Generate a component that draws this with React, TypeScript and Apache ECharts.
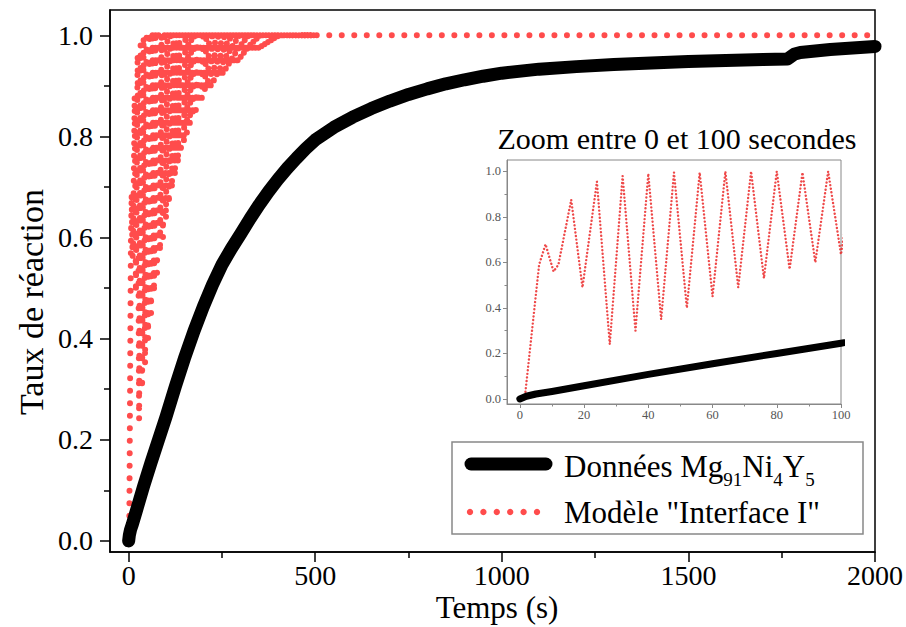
import React, { useEffect, useRef } from "react";
import * as echarts from "echarts";

// ---- Data ----
const xTicks = [0, 500, 1000, 1500, 2000];
const xMinorTicks = [250, 750, 1250, 1750];
const yTicks = [0, 0.2, 0.4, 0.6, 0.8, 1.0];
const yMinorTicks = [0.1, 0.3, 0.5, 0.7, 0.9];
const insetXTicks = [0, 20, 40, 60, 80, 100];
const insetXMinorTicks = [10, 30, 50, 70, 90];

// Données Mg91Ni4Y5 (temps s, taux)
const dataT = [0, 2, 5, 10, 20, 40, 60, 80, 100, 125, 150, 175, 200, 225, 250, 275, 300, 325, 350, 375, 400, 425, 450, 475, 500, 550, 600, 650, 700, 750, 800, 850, 900, 950, 1000, 1100, 1200, 1300, 1400, 1500, 1600, 1700, 1765, 1785, 1800, 1880, 2000];
const dataY = [0, 0.012, 0.022, 0.033, 0.058, 0.108, 0.155, 0.2, 0.245, 0.305, 0.362, 0.415, 0.463, 0.507, 0.546, 0.578, 0.607, 0.637, 0.665, 0.691, 0.715, 0.737, 0.757, 0.776, 0.793, 0.818, 0.838, 0.855, 0.87, 0.883, 0.894, 0.904, 0.912, 0.919, 0.925, 0.933, 0.938, 0.942, 0.945, 0.948, 0.95, 0.952, 0.953, 0.963, 0.966, 0.972, 0.978];

// Modèle "Interface I" (peaks and troughs)
const modelT = [1.5, 6, 8, 10.5, 12, 16, 19.5, 24, 28, 32, 36, 40, 44, 48, 52, 56, 60, 64, 68, 72, 76, 80, 84, 88, 92, 96, 100,
  104, 108, 112, 116, 120, 124, 128, 132, 136, 140, 144, 148, 152, 156, 160, 164, 168, 172, 176, 180, 184, 188, 192, 196, 200,
  204, 208, 212, 216, 220, 224, 228, 232, 236, 240, 244, 248, 252, 256, 260, 264, 268, 272, 276, 280, 284, 288, 292, 296, 300,
  304, 308, 312, 316, 320, 324, 328, 332, 336, 340, 344, 348, 352, 356, 360, 364, 368, 372, 376, 380, 384, 388, 392, 396, 400,
  404, 408, 412, 416, 420, 424, 428, 432, 436, 440, 444, 448, 452, 456, 460, 464, 468, 472, 476, 480, 484, 488, 492, 496, 500,
  504, 2000];
const modelY = [0.0, 0.59, 0.68, 0.56, 0.59, 0.875, 0.49, 0.955, 0.24, 0.98, 0.30, 0.99, 0.35, 0.995, 0.40, 0.995, 0.45, 1.0, 0.49, 1.0, 0.53, 1.0, 0.57, 0.995, 0.60, 1.0, 0.635,
  1.0, 0.665, 1.0, 0.695, 1.0, 0.72, 1.0, 0.745, 1.0, 0.765, 1.0, 0.785, 1.0, 0.805, 1.0, 0.822, 1.0, 0.838, 1.0, 0.852, 1.0, 0.864, 1.0, 0.875, 1.0,
  0.885, 1.0, 0.893, 1.0, 0.9, 1.0, 0.906, 1.0, 0.912, 1.0, 0.918, 1.0, 0.924, 1.0, 0.93, 1.0, 0.935, 1.0, 0.94, 1.0, 0.945, 1.0, 0.95, 1.0, 0.954,
  1.0, 0.958, 1.0, 0.962, 1.0, 0.966, 1.0, 0.969, 1.0, 0.972, 1.0, 0.975, 1.0, 0.977, 1.0, 0.979, 1.0, 0.981, 1.0, 0.983, 1.0, 0.985, 1.0, 0.987, 1.0,
  0.988, 1.0, 0.989, 1.0, 0.99, 1.0, 0.991, 1.0, 0.992, 1.0, 0.993, 1.0, 0.994, 1.0, 0.995, 1.0, 0.996, 1.0, 0.997, 1.0, 0.998, 1.0, 0.998, 1.0, 0.999,
  1.0, 1.0];

const FONT = '"Liberation Serif", "Times New Roman", serif';

function pairs(t: number[], y: number[]) {
  return t.map((v, i) => [v, y[i]]);
}

// Split the model path at every peak, so the dot pattern restarts at each peak
function splitAtPeaks(t: number[], y: number[]) {
  const out: any[] = [];
  for (let i = 0; i < t.length; i++) {
    out.push([t[i], y[i]]);
    const isPeak = i > 0 && i < t.length - 1 && y[i] >= y[i - 1] && y[i] >= y[i + 1];
    if (isPeak) {
      out.push([t[i], "-"]);
      out.push([t[i], y[i]]);
    }
  }
  return out;
}

function majorAxis(opts: any) {
  const { gridIndex, min, max, ticks, fmt, color, labelColor, fontSize, margin, tickLen, lineWidth, position } = opts;
  return {
    type: "value",
    gridIndex,
    position,
    min,
    max,
    splitLine: { show: false },
    axisLine: { show: true, onZero: false, lineStyle: { color, width: lineWidth } },
    axisTick: { show: true, inside: false, customValues: ticks, length: tickLen, lineStyle: { color, width: lineWidth } },
    axisLabel: {
      show: true,
      customValues: ticks,
      formatter: fmt,
      margin,
      fontSize,
      fontFamily: FONT,
      color: labelColor,
    },
  };
}

function minorAxis(opts: any) {
  const { gridIndex, min, max, ticks, color, tickLen, lineWidth, position } = opts;
  return {
    type: "value",
    gridIndex,
    position,
    min,
    max,
    splitLine: { show: false },
    axisLine: { show: false, onZero: false },
    axisLabel: { show: false },
    axisTick: { show: true, inside: false, customValues: ticks, length: tickLen, lineStyle: { color, width: lineWidth } },
  };
}

export default function App() {
  const ref = useRef<HTMLDivElement>(null);

  useEffect(() => {
    if (!ref.current) return;
    const chart = echarts.init(ref.current, null, { renderer: "svg" });

    const dataPairs = pairs(dataT, dataY);
    const modelPairs = pairs(modelT, modelY);
    const modelSplit = splitAtPeaks(modelT, modelY);

    const legendDots = [0, 1, 2, 3, 4, 5].map((i) => ({
      type: "circle",
      shape: { cx: 470 + i * 13.4, cy: 512, r: 3.2 },
      style: { fill: "rgba(255,0,0,0.7)" },
      z: 101,
    }));

    const fmtInt = (v: number) => String(v);
    const fmt1 = (v: number) => v.toFixed(1);

    const option: any = {
      animation: false,
      backgroundColor: "#fff",
      grid: [
        { left: 110, top: 10, right: 30, bottom: 75, show: true, borderColor: "#000", borderWidth: 1.5, backgroundColor: "transparent" },
        { left: 507, top: 160, right: 65, bottom: 223, show: true, borderColor: "#888", borderWidth: 1, backgroundColor: "#fff" },
      ],
      xAxis: [
        majorAxis({ gridIndex: 0, position: "bottom", min: -50, max: 2000, ticks: xTicks, fmt: fmtInt, color: "#000", labelColor: "#000", fontSize: 28, margin: 9, tickLen: 10, lineWidth: 1.5 }),
        minorAxis({ gridIndex: 0, position: "bottom", min: -50, max: 2000, ticks: xMinorTicks, color: "#000", tickLen: 6, lineWidth: 1.5 }),
        majorAxis({ gridIndex: 1, position: "bottom", min: -4, max: 100, ticks: insetXTicks, fmt: fmtInt, color: "#888", labelColor: "#555", fontSize: 12.5, margin: 4, tickLen: 4, lineWidth: 1 }),
        minorAxis({ gridIndex: 1, position: "bottom", min: -4, max: 100, ticks: insetXMinorTicks, color: "#888", tickLen: 2.5, lineWidth: 1 }),
      ],
      yAxis: [
        majorAxis({ gridIndex: 0, position: "left", min: -0.022, max: 1.05, ticks: yTicks, fmt: fmt1, color: "#000", labelColor: "#000", fontSize: 28, margin: 17, tickLen: 10, lineWidth: 1.5 }),
        minorAxis({ gridIndex: 0, position: "left", min: -0.022, max: 1.05, ticks: yMinorTicks, color: "#000", tickLen: 6, lineWidth: 1.5 }),
        majorAxis({ gridIndex: 1, position: "left", min: -0.022, max: 1.05, ticks: yTicks, fmt: fmt1, color: "#888", labelColor: "#555", fontSize: 12.5, margin: 6, tickLen: 4, lineWidth: 1 }),
        minorAxis({ gridIndex: 1, position: "left", min: -0.022, max: 1.05, ticks: yMinorTicks, color: "#888", tickLen: 2.5, lineWidth: 1 }),
      ],
      series: [
        {
          name: 'Modèle "Interface I"',
          type: "line",
          xAxisIndex: 0,
          yAxisIndex: 0,
          data: modelSplit,
          connectNulls: false,
          symbol: "none",
          showSymbol: false,
          z: 2,
          lineStyle: { color: "rgba(255,0,0,0.7)", width: 6, type: [0.01, 12.5], cap: "round", join: "round" },
        },
        {
          name: "Données Mg91Ni4Y5",
          type: "line",
          xAxisIndex: 0,
          yAxisIndex: 0,
          data: dataPairs,
          symbol: "none",
          showSymbol: false,
          z: 3,
          lineStyle: { color: "#000", width: 13, cap: "round", join: "round" },
        },
        {
          type: "line",
          xAxisIndex: 2,
          yAxisIndex: 2,
          data: modelPairs,
          symbol: "none",
          showSymbol: false,
          z: 4,
          lineStyle: { color: "rgba(235,40,40,0.85)", width: 2.4, type: [0.01, 3.6], cap: "round", join: "round" },
        },
        {
          type: "line",
          xAxisIndex: 2,
          yAxisIndex: 2,
          data: dataPairs,
          symbol: "none",
          showSymbol: false,
          z: 5,
          lineStyle: { color: "#000", width: 7, cap: "round", join: "round" },
        },
      ],
      graphic: [
        {
          type: "text",
          x: 497,
          y: 607,
          z: 100,
          style: { text: "Temps (s)", fontSize: 31, fontFamily: FONT, fill: "#000", align: "center", verticalAlign: "middle" },
        },
        {
          type: "text",
          x: 31,
          y: 302,
          rotation: Math.PI / 2,
          z: 100,
          style: { text: "Taux de réaction", fontSize: 34, fontFamily: FONT, fill: "#000", align: "center", verticalAlign: "middle" },
        },
        {
          type: "text",
          x: 677,
          y: 138,
          z: 100,
          style: { text: "Zoom entre 0 et 100 secondes", fontSize: 30, fontFamily: FONT, fill: "#000", align: "center", verticalAlign: "middle" },
        },
        {
          type: "rect",
          shape: { x: 452, y: 442, width: 411, height: 92 },
          style: { fill: "#fff", stroke: "#888", lineWidth: 1.5 },
          z: 100,
        },
        {
          type: "line",
          shape: { x1: 471, y1: 464, x2: 546, y2: 464 },
          style: { stroke: "#000", lineWidth: 13, lineCap: "round" },
          z: 101,
        },
        ...legendDots,
        {
          type: "text",
          x: 564,
          y: 466,
          z: 101,
          style: {
            text: "Données Mg{s|91}Ni{s|4}Y{s|5}",
            fontSize: 31,
            fontFamily: FONT,
            fill: "#000",
            align: "left",
            verticalAlign: "middle",
            rich: {
              s: { fontSize: 19, fontFamily: FONT, fill: "#000", padding: [26, 0, 0, 0] },
            },
          },
        },
        {
          type: "text",
          x: 564,
          y: 512,
          z: 101,
          style: { text: 'Modèle "Interface I"', fontSize: 31, fontFamily: FONT, fill: "#000", align: "left", verticalAlign: "middle" },
        },
      ],
    };

    chart.setOption(option);
    return () => chart.dispose();
  }, []);

  return <div ref={ref} style={{ position: "fixed", left: 0, top: 0, width: 906, height: 627, background: "#fff" }} />;
}
